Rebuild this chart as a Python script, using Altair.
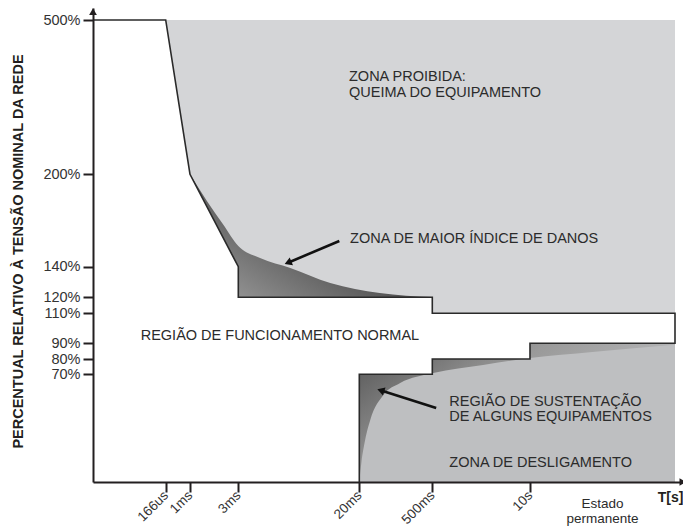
import altair as alt
import pandas as pd

# ---------------- axis ticks ----------------
x_tick_values = [1, 2, 3, 4, 5, 6]
x_tick_labels = ["166us", "1ms", "3ms", "20ms", "500ms", "10s"]
y_tick_values = [70, 80, 90, 110, 120, 140, 200, 500]

# schematic (piecewise) scales: time index -> position, percent -> position
x_domain = [0, 1, 2, 3, 4, 5, 6, 7, 7.5]
x_range = [0, 72.7, 97, 145.3, 266.3, 339.3, 437, 582, 590]
y_domain = [0, 70, 80, 90, 110, 120, 140, 200, 500, 520]
y_range = [474, 366.3, 351, 335.3, 305.3, 289.3, 258.7, 166.3, 12, 0]

# ---------------- regions ----------------
boundary_x = [0, 1, 2, 3, 3, 5, 5, 7, 7, 6, 6, 5, 5, 4, 4]
boundary_y = [500, 500, 200, 140, 120, 120, 110, 110, 90, 90, 80, 80, 70, 70, 0]

safe_x = [0, 1, 2, 3, 3, 4, 4, 5, 5, 6, 6, 7]
safe_top = [500, 500, 200, 140, 120, 120, 120, 120, 110, 110, 110, 110]
safe_bottom = [0, 0, 0, 0, 0, 0, 70, 70, 80, 80, 90, 90]

forbidden_x = [1, 7]
forbidden_top = [500, 500]
forbidden_bottom = [110, 110]

shutdown_x = [4, 7]
shutdown_top = [90, 90]
shutdown_bottom = [0, 0]

damage_x = [2, 2.35, 2.68, 3, 3.18, 3.43, 3.76, 4.28, 5]
damage_y = [200, 182.7, 167.7, 153.5, 145.7, 139.2, 129.4, 122.8, 120.2]
damage_floor = [120] * len(damage_x)

sustain_x = [4, 4.03, 4.08, 4.15, 4.33, 4.56, 5.01, 5.52, 6, 6.43, 7]
sustain_y = [0, 13, 27.3, 40.3, 56.5, 64.3, 70.8, 76.1, 80.6, 84.5, 89.0]
sustain_ceiling = [90] * len(sustain_x)

# ---------------- annotations ----------------
ann_text = ["ZONA PROIBIDA:", "QUEIMA DO EQUIPAMENTO", "ZONA DE MAIOR ÍNDICE DE DANOS",
            "REGIÃO DE FUNCIONAMENTO NORMAL", "REGIÃO DE SUSTENTAÇÃO",
            "DE ALGUNS EQUIPAMENTOS", "ZONA DE DESLIGAMENTO"]
ann_x = [3.915, 3.915, 3.924, 0.656, 5.174, 5.174, 5.174]
ann_y = [389.2, 358.1, 158.3, 95, 52.2, 42.0, 12.5]

below_text = ["Estado", "permanente"]
below_x = [6.5, 6.5]
below_y = [-14.6, -24.0]

unit_text = ["T[s]"]
unit_x = [6.97]
unit_y = [-10.4]

arrow_tail_x = [3.835, 5.04]
arrow_tail_y = [156.7, 48.1]
arrow_head_x = [3.42, 4.31]
arrow_head_y = [142.9, 59.3]

INK = "#231f20"
FONT = "Liberation Sans"

label_expr = " : ".join(
    f"datum.value == {v} ? '{t}'" for v, t in zip(x_tick_values, x_tick_labels)
) + " : ''"

x_scale = alt.Scale(domain=x_domain, range=x_range, nice=False, zero=False)
y_scale = alt.Scale(domain=y_domain, range=y_range, nice=False, zero=False)

x_axis = alt.Axis(values=x_tick_values, labelExpr=label_expr, title=None, grid=False,
                  labelAngle=-45, labelAlign="right", labelBaseline="middle",
                  labelPadding=1, labelFont=FONT, labelFontSize=13.5, labelColor="#333333",
                  tickSize=10, tickWidth=2, tickColor=INK, domainColor=INK, domainWidth=2,
                  zindex=1, labelOverlap=False)
y_axis = alt.Axis(values=y_tick_values, labelExpr="datum.value + '%'", grid=False,
                  title="PERCENTUAL RELATIVO À TENSÃO NOMINAL DA REDE",
                  titleFont=FONT, titleFontSize=14.5, titleFontWeight="bold", titleColor=INK,
                  titleX=-75, titleY=243, titleAlign="center", titleBaseline="middle",
                  titleAngle=270,
                  labelPadding=3, labelFont=FONT, labelFontSize=14.5, labelColor="#333333",
                  tickSize=10, tickWidth=2, tickColor=INK, domainColor=INK, domainWidth=2,
                  zindex=1, labelOverlap=False)


def X(f):
    return alt.X(f, type="quantitative", scale=x_scale, axis=x_axis)


def Y(f):
    return alt.Y(f, type="quantitative", scale=y_scale, axis=y_axis)


def band(xs, top, bottom):
    return pd.DataFrame({"x": xs, "top": top, "bottom": bottom, "i": range(len(xs))})


forbidden = alt.Chart(band(forbidden_x, forbidden_top, forbidden_bottom)).mark_area(
    color="#d4d5d7").encode(x=X("x"), y=Y("top"), y2="bottom")

damage = alt.Chart(band(damage_x, damage_y, damage_floor)).mark_area(
    interpolate="monotone",
    color=alt.Gradient(gradient="linear", x1=0.1, y1=1, x2=0.6, y2=0.6,
                       stops=[alt.GradientStop(color="#9a9a9a", offset=0),
                              alt.GradientStop(color="#505050", offset=1)])
).encode(x=X("x"), y=Y("top"), y2="bottom")

shutdown = alt.Chart(band(shutdown_x, shutdown_top, shutdown_bottom)).mark_area(
    color="#bebfc1").encode(x=X("x"), y=Y("top"), y2="bottom")

sustain = alt.Chart(band(sustain_x, sustain_ceiling, sustain_y)).mark_area(
    interpolate="monotone",
    color=alt.Gradient(gradient="linear", x1=0, y1=0.2, x2=1, y2=0.8,
                       stops=[alt.GradientStop(color="#606060", offset=0),
                              alt.GradientStop(color="#9a9a9a", offset=0.35),
                              alt.GradientStop(color="#bebfc1", offset=0.8)])
).encode(x=X("x"), y=Y("top"), y2="bottom")

safe = alt.Chart(band(safe_x, safe_top, safe_bottom)).mark_area(
    color="white").encode(x=X("x"), y=Y("top"), y2="bottom")

outline = alt.Chart(pd.DataFrame({"x": boundary_x, "y": boundary_y,
                                  "i": range(len(boundary_x))})).mark_line(
    color="#2a2a2a", strokeWidth=1.6).encode(x=X("x"), y=Y("y"), order="i:Q")

ann = alt.Chart(pd.DataFrame({"x": ann_x, "y": ann_y, "t": ann_text})).mark_text(
    align="left", baseline="middle", font=FONT, fontSize=14.5, color="#2b2b2b"
).encode(x=X("x"), y=Y("y"), text="t:N")

below = alt.Chart(pd.DataFrame({"x": below_x, "y": below_y, "t": below_text})).mark_text(
    align="center", baseline="middle", font=FONT, fontSize=13.5, color="#2b2b2b"
).encode(x=X("x"), y=Y("y"), text="t:N")

unit = alt.Chart(pd.DataFrame({"x": unit_x, "y": unit_y, "t": unit_text})).mark_text(
    align="center", baseline="middle", font=FONT, fontSize=14, fontWeight="bold", color=INK
).encode(x=X("x"), y=Y("y"), text="t:N")

arrows_df = pd.DataFrame({"x": arrow_tail_x, "y": arrow_tail_y,
                          "x2": arrow_head_x, "y2": arrow_head_y})
shafts = alt.Chart(arrows_df).mark_rule(color="#111111", strokeWidth=2.6).encode(
    x=X("x"), y=Y("y"), x2="x2", y2="y2")

head1 = alt.Chart(pd.DataFrame({"x": arrow_head_x[:1], "y": arrow_head_y[:1]})).mark_point(
    shape="triangle", filled=True, opacity=1, size=70, angle=247, color="#111111"
).encode(x=X("x"), y=Y("y"))
head2 = alt.Chart(pd.DataFrame({"x": arrow_head_x[1:], "y": arrow_head_y[1:]})).mark_point(
    shape="triangle", filled=True, opacity=1, size=70, angle=288, color="#111111"
).encode(x=X("x"), y=Y("y"))

yarrow = alt.Chart(pd.DataFrame({"x": [0], "y": [512]})).mark_point(
    shape="triangle", filled=True, opacity=1, size=60, angle=0, color=INK
).encode(x=X("x"), y=Y("y"))
xarrow = alt.Chart(pd.DataFrame({"x": [7.42], "y": [0]})).mark_point(
    shape="triangle", filled=True, opacity=1, size=60, angle=90, color=INK
).encode(x=X("x"), y=Y("y"))

chart = alt.layer(
    forbidden, damage, shutdown, sustain, safe, outline,
    shafts, head1, head2, ann, below, unit, yarrow, xarrow
).properties(
    width=590, height=474,
    autosize=alt.AutoSizeParams(type="none"),
    padding={"left": 85, "top": 0, "right": 0, "bottom": 49},
    background="white",
).configure_view(stroke=None)

chart.save("out.html", embed_options={"renderer": "svg", "actions": False})
